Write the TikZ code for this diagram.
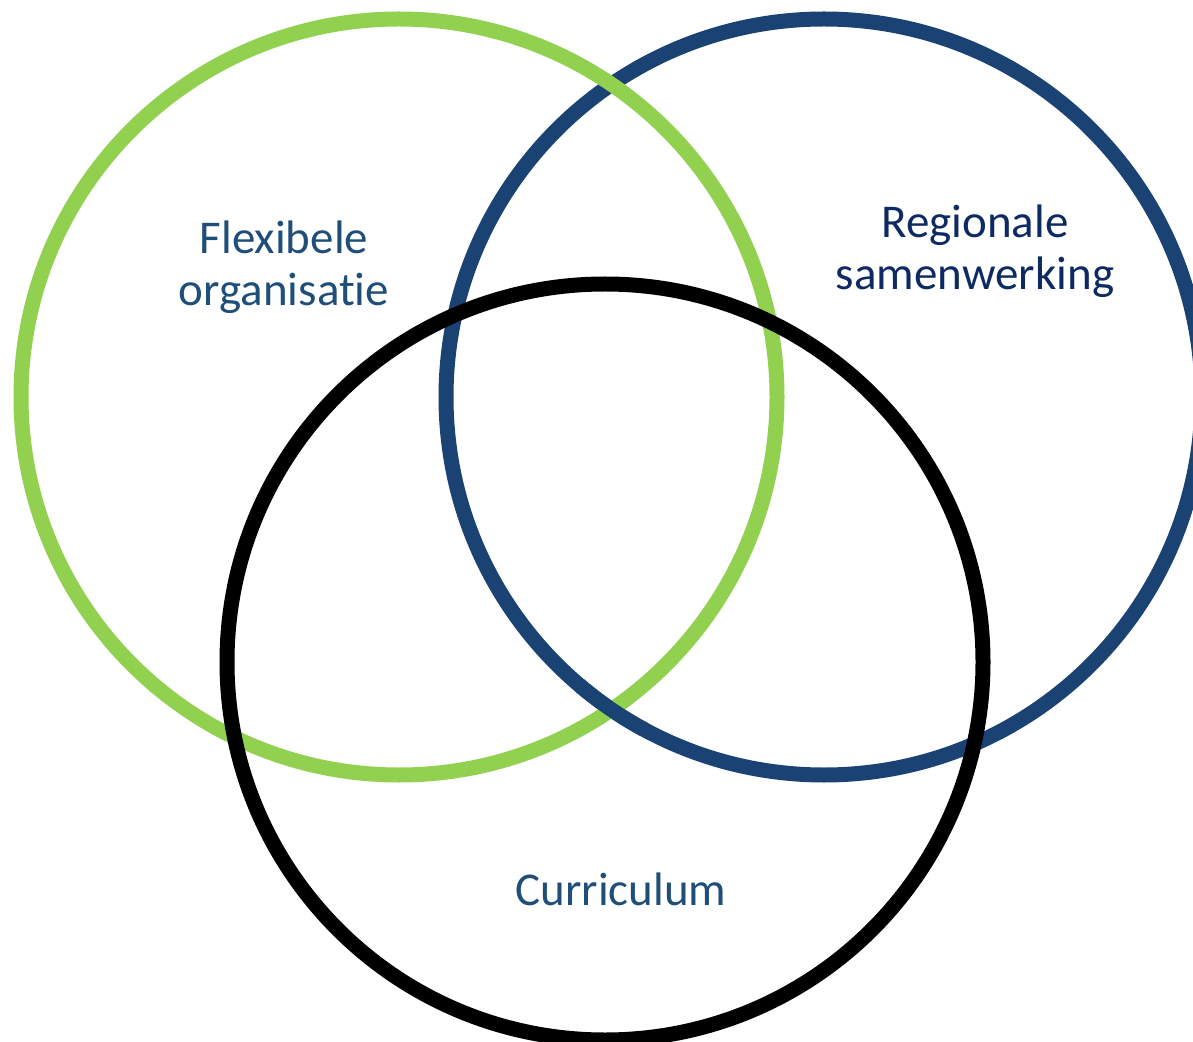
\documentclass[tikz,border=0pt]{standalone}
\usepackage{fontspec}
\setmainfont{Carlito}[Ligatures=NoCommon]
\usetikzlibrary{positioning}
\usepackage{xcolor}
\definecolor{ringgreen}{HTML}{92D050}
\definecolor{ringblue}{HTML}{1A4373}
\definecolor{textblue}{HTML}{1F4E79}
\definecolor{textnavy}{HTML}{0E2A63}

\begin{document}
\begin{tikzpicture}[x=0.5pt, y=-0.5pt,
    ring/.style={line width=7.5pt},
    venntext/.style={align=center, font=\fontsize{23.5pt}{26pt}\selectfont}]
    \useasboundingbox (0,0) rectangle (1193,1042);
    % circle centres
    \coordinate (orgc) at (399,397);
    \coordinate (regc) at (824,397);
    \coordinate (curc) at (605,662);
    \coordinate (lowx) at (611,709);

    % rings
    \draw[ring, ringblue] (regc) circle (378);
    \draw[ring, ringgreen] (orgc) circle (378);
    \begin{scope}
        \clip (lowx) circle (40);
        \draw[ring, ringblue] (regc) circle (378);
    \end{scope}
    \draw[ring, black] (curc) circle (378);

    % labels
    \node[venntext, text=textblue] (org) at (284,267) {Flexibele\\organisatie};
    \node[venntext, text=textnavy] (reg) at (975,251) {Regionale\\samenwerking};
    \node[venntext, text=textblue] (cur) at (621,889) {Curriculum};
\end{tikzpicture}
\end{document}
